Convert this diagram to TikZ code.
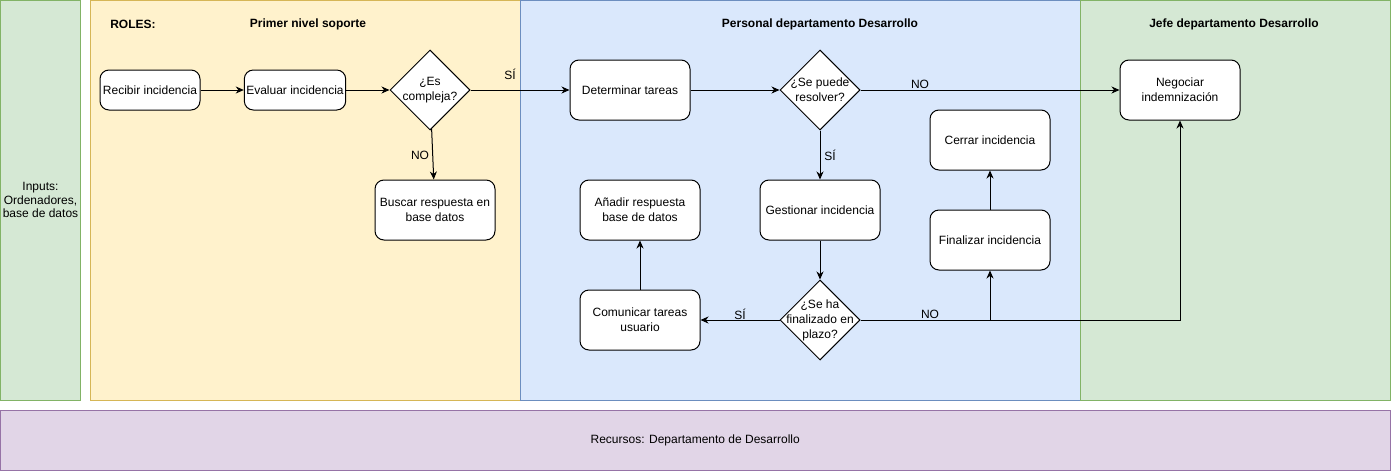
\documentclass[tikz,border=0pt]{standalone}
\usepackage{fontspec}
\setmainfont{Liberation Sans}
\usetikzlibrary{shapes.geometric,arrows.meta}
\definecolor{gfill}{HTML}{D5E8D4}
\definecolor{gdraw}{HTML}{82B366}
\definecolor{yfill}{HTML}{FFF2CC}
\definecolor{ydraw}{HTML}{D6B656}
\definecolor{bfill}{HTML}{DAE8FC}
\definecolor{bdraw}{HTML}{6C8EBF}
\definecolor{pfill}{HTML}{E1D5E7}
\definecolor{pdraw}{HTML}{9673A6}
\begin{document}
\begin{tikzpicture}[x=1pt,y=-1pt,
  font=\fontsize{12}{15}\selectfont,
  lanebox/.style={line width=1pt, inner sep=0pt, outer sep=0pt, anchor=north west},
  box/.style={draw, fill=white, rounded corners=9pt, line width=1pt, minimum width=120pt, minimum height=60pt, align=center, inner sep=2pt},
  smallbox/.style={box, minimum width=100pt, minimum height=40pt},
  dia/.style={draw, fill=white, diamond, line width=1pt, minimum width=80pt, minimum height=80pt, inner sep=0pt},
  ttl/.style={font=\fontsize{12}{15}\selectfont\bfseries, inner sep=0pt},
  lbl/.style={align=center, inner sep=0pt},
  flow/.style={line width=1pt, -{Stealth[length=8pt,width=7pt,inset=2.5pt]}},
  plain/.style={line width=1pt},
]
\useasboundingbox (0,0) rectangle (1391,471);

% lanes
\node[lanebox, fill=gfill, draw=gdraw, minimum width=80pt, minimum height=399.5pt] (inputs) at (0.5,0.5) {};
\node[lanebox, fill=yfill, draw=ydraw, minimum width=430pt, minimum height=399.5pt] (yellow) at (90,0.5) {};
\node[lanebox, fill=bfill, draw=bdraw, minimum width=560pt, minimum height=399.5pt] (blue) at (520,0.5) {};
\node[lanebox, fill=gfill, draw=gdraw, minimum width=310pt, minimum height=399.5pt] (green) at (1080,0.5) {};
\node[lanebox, fill=pfill, draw=pdraw, minimum width=1389.5pt, minimum height=60pt] (recursos) at (0.5,410) {};

\node[lbl, font=\fontsize{12}{13.5}\selectfont] (intxt) at (inputs.center) {Inputs:\\Ordenadores,\\base de datos};
\node[lbl] (rectxt) at (recursos.center) {Recursos: Departamento de Desarrollo};

% titles
\node[ttl] (roles) at (133,24) {ROLES:};
\node[ttl] (t1) at (308,24) {Primer nivel soporte};
\node[ttl] (t2) at (820,24) {Personal departamento Desarrollo};
\node[ttl] (t3) at (1234,24) {Jefe departamento Desarrollo};

% nodes
\node[smallbox] (recibir) at (150,90) {Recibir incidencia};
\node[smallbox] (evaluar) at (295,90) {Evaluar incidencia};
\node[dia] (d1) at (430,90) {};
\node[lbl] (d1t) at (d1.center) {¿Es\\compleja?};
\node[box] (buscar) at (435,210) {Buscar respuesta en\\base datos};

\node[box] (determinar) at (630,90) {Determinar tareas};
\node[dia] (d2) at (820,90) {};
\node[lbl] (d2t) at (d2.center) {¿Se puede\\resolver?};
\node[box] (negociar) at (1180,90) {Negociar\\indemnización};
\node[box] (cerrar) at (990,140) {Cerrar incidencia};
\node[box] (gestionar) at (820,210) {Gestionar incidencia};
\node[box] (anadir) at (640,210) {Añadir respuesta\\base de datos};
\node[box] (finalizar) at (990,240) {Finalizar incidencia};
\node[box] (comunicar) at (640,320) {Comunicar tareas\\usuario};
\node[dia] (d3) at (820,320) {};
\node[lbl] (d3t) at (d3.center) {¿Se ha\\finalizado en\\plazo?};

% connectors
\draw[flow] (recibir) -- (evaluar);
\draw[flow] (evaluar) -- (d1);
\draw[flow] (d1) -- (determinar);
\draw[flow] (d1) -- (buscar);
\draw[flow] (determinar) -- (d2);
\draw[flow] (d2) -- (negociar);
\draw[flow] (d2) -- (gestionar);
\draw[flow] (gestionar) -- (d3);
\draw[flow] (d3) -- (comunicar);
\draw[flow] (comunicar) -- (anadir);
\draw[flow] (finalizar) -- (cerrar);
\draw[flow] (d3.east) -| (negociar.south);
\coordinate (j) at (d3.east -| finalizar.south);
\draw[flow] (j) -- (finalizar.south);

% labels
\node[lbl] (l1) at (510,74) {SÍ};
\node[lbl] (l2) at (420,155) {NO};
\node[lbl] (l3) at (920,84) {NO};
\node[lbl] (l4) at (830,155) {SÍ};
\node[lbl] (l5) at (740,314) {SÍ};
\node[lbl] (l6) at (930,314) {NO};
\end{tikzpicture}
\end{document}
